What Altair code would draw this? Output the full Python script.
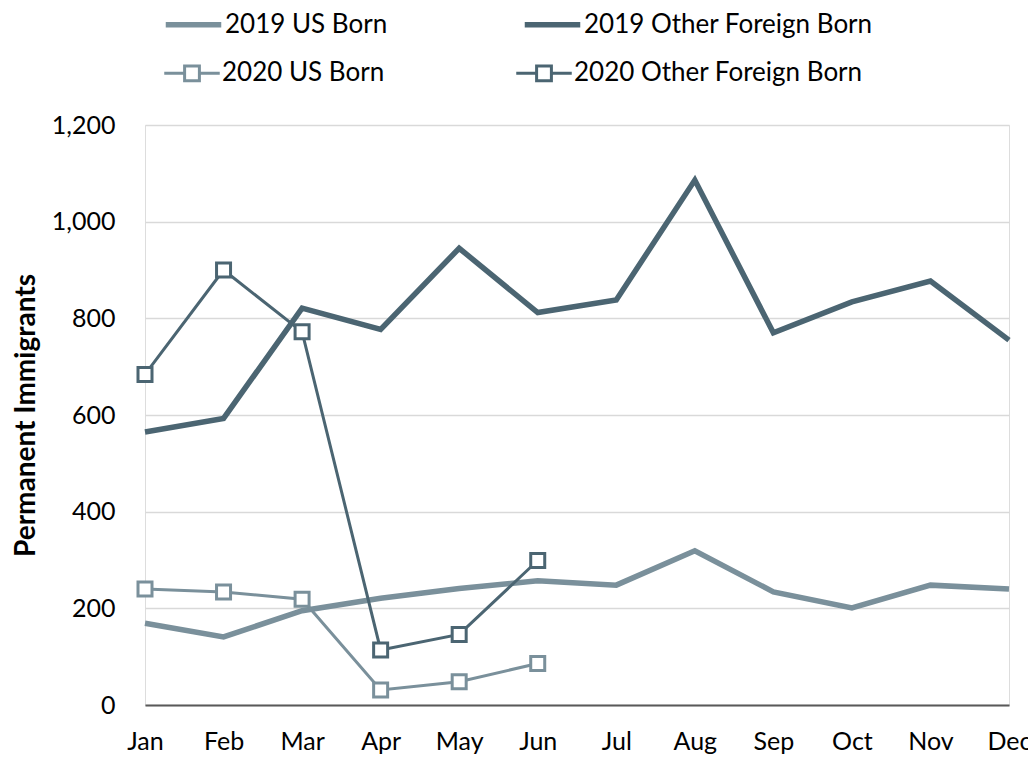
import altair as alt
import pandas as pd

months = ["Jan", "Feb", "Mar", "Apr", "May", "Jun", "Jul", "Aug", "Sep", "Oct", "Nov", "Dec"]
us_2019 = [169, 141, 195, 221, 241, 257, 248, 319, 234, 201, 248, 240]
fb_2019 = [565, 593, 821, 777, 945, 812, 838, 1086, 770, 834, 877, 755]
us_2020 = [240, 234, 219, 31, 48, 86]
fb_2020 = [684, 900, 772, 114, 146, 299]

names_2019 = ["2019 US Born", "2019 Other Foreign Born"]
names_2020 = ["2020 US Born", "2020 Other Foreign Born"]
colors = ["#7a909b", "#4b6572"]

rows19 = []
for name, vals in zip(names_2019, [us_2019, fb_2019]):
    for m, v in zip(months, vals):
        rows19.append({"month": m, "value": v, "series": name})
rows20 = []
for name, vals in zip(names_2020, [us_2020, fb_2020]):
    for m, v in zip(months, vals):
        rows20.append({"month": m, "value": v, "series": name})
df19 = pd.DataFrame(rows19)
df20 = pd.DataFrame(rows20)

FONT = "Lato"

x_enc = alt.X("month:N", sort=months, scale=alt.Scale(type="point", padding=0, domain=months),
              axis=alt.Axis(title=None, labelAngle=0, labelFontSize=25, labelFont=FONT,
                            labelColor="#000000", ticks=False, domain=True,
                            domainColor="#595959", domainWidth=2, grid=False,
                            labelPadding=24))
y_enc = alt.Y("value:Q", scale=alt.Scale(domain=[0, 1200], nice=False),
              axis=alt.Axis(title="Permanent Immigrants", values=[0, 200, 400, 600, 800, 1000, 1200],
                            format=",d", labelFontSize=25, labelFont=FONT, labelColor="#000000",
                            titleFont=FONT, titleFontSize=28, titleFontWeight="bold",
                            titleColor="#000000", titlePadding=11, ticks=False, domain=False,
                            grid=True, gridColor="#d9d9d9", gridWidth=1.5, labelPadding=30))

legend_common = dict(title=None, orient="none", columns=2, direction="horizontal",
                     columnPadding=125, labelFont=FONT, labelFontSize=26, labelColor="#000000",
                     labelFontWeight="normal",
                     labelOffset=10, symbolSize=1369, padding=0, labelLimit=500,
                     symbolFillColor="#ffffff", symbolOpacity=1, legendX=27)

stroke_enc = alt.Stroke("series:N", scale=alt.Scale(domain=names_2019, range=colors),
                        legend=alt.Legend(legendY=-122, symbolType="M-1.5,0H1.5",
                                          symbolStrokeWidth=5.5, **legend_common))
color_enc = alt.Color("series:N", scale=alt.Scale(domain=names_2020, range=colors),
                      legend=alt.Legend(legendY=-72,
                                        symbolType="M-1.5,0H-0.4M0.4,0H1.5M-0.4,-0.4H0.4V0.4H-0.4Z",
                                        symbolStrokeWidth=3, **legend_common))

lines_2019 = alt.Chart(df19).mark_line(strokeWidth=5.5).encode(x=x_enc, y=y_enc, stroke=stroke_enc)
lines_2020 = alt.Chart(df20).mark_line(strokeWidth=3).encode(x=x_enc, y=y_enc, color=color_enc)
points_2020 = alt.Chart(df20).mark_point(
    shape="square", size=196, filled=False, fill="#ffffff", fillOpacity=1, strokeWidth=3, opacity=1
).encode(x=x_enc, y=y_enc, color=color_enc)

chart = alt.layer(lines_2019, lines_2020, points_2020).properties(
    width=864, height=580,
    autosize=alt.AutoSizeParams(type="none"),
    padding={"left": 137, "top": 117, "right": 19, "bottom": 50},
).configure_view(stroke=None).configure(font=FONT)

chart.save("out.html", embed_options={"renderer": "svg", "actions": False})
